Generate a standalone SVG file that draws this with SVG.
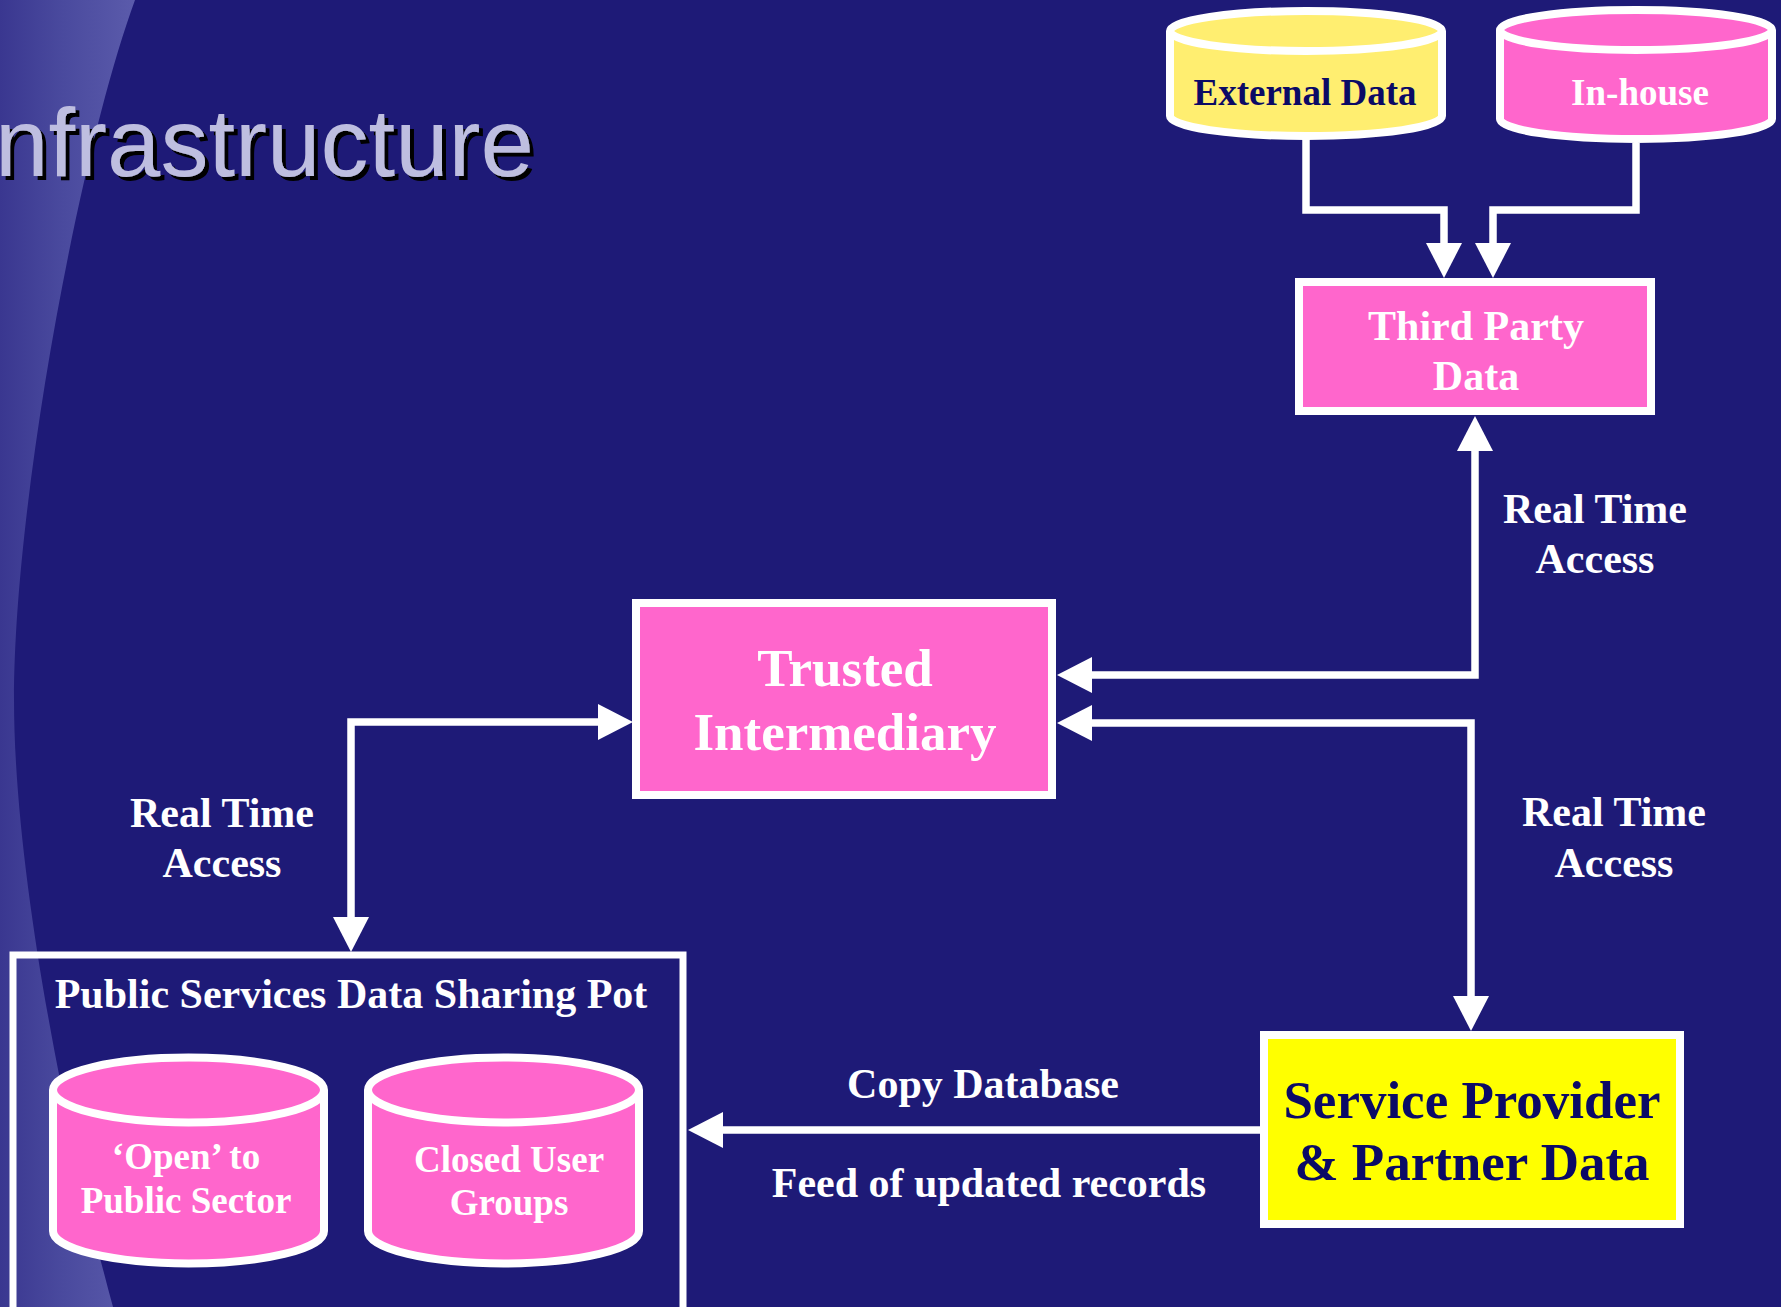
<svg xmlns="http://www.w3.org/2000/svg" width="1781" height="1307" viewBox="0 0 1781 1307">
<defs>
<style>
.t{font-family:"Liberation Serif","Times New Roman",serif;font-weight:bold;text-anchor:middle;}
.w{fill:#FFFFFF;}
.n{fill:#0B0A66;}
.box{stroke:#FFFFFF;stroke-width:8;}
.pink{fill:#FF66CC;}
.conn{fill:none;stroke:#FFFFFF;stroke-width:7.5;}
</style>
<linearGradient id="band" gradientUnits="userSpaceOnUse" x1="0" y1="0" x2="140" y2="0">
<stop offset="0" stop-color="#3A3790"/>
<stop offset="0.45" stop-color="#4A4A9E"/>
<stop offset="1" stop-color="#5C5CAC"/>
</linearGradient>
<filter id="shadow" x="-5%" y="-20%" width="115%" height="150%">
<feDropShadow dx="4" dy="4" stdDeviation="0" flood-color="#000000" flood-opacity="1"/>
</filter>
<marker id="ah" viewBox="0 0 35 36" refX="0" refY="18" markerWidth="35" markerHeight="36" markerUnits="userSpaceOnUse" orient="auto-start-reverse">
<path d="M0,0 L35,18 L0,36 Z" fill="#FFFFFF"/>
</marker>
</defs>
<rect x="0" y="0" width="1781" height="1307" fill="#1E1A77"/>
<path d="M0,0 L135,0 C80,150 14,500 14,700 C14,880 70,1150 113,1307 L0,1307 Z" fill="url(#band)"/>
<g id="title">
<text x="-5" y="176" font-family="Liberation Sans, Arial, sans-serif" font-size="96" fill="#BEBEE0" filter="url(#shadow)">nfrastructure</text>
</g>
<g id="connectors">
<path class="conn" d="M1306,139 V210 H1444 V243" marker-end="url(#ah)"/>
<path class="conn" d="M1636,143 V210 H1493 V243" marker-end="url(#ah)"/>
<path class="conn" d="M1475,451 V675 H1092" marker-start="url(#ah)" marker-end="url(#ah)"/>
<path class="conn" d="M1092,723 H1471 V996" marker-start="url(#ah)" marker-end="url(#ah)"/>
<path class="conn" d="M598,722 H351 V917" marker-start="url(#ah)" marker-end="url(#ah)"/>
<path class="conn" d="M1261,1130 H723" marker-end="url(#ah)"/>
</g>
<g id="external-data">
<path class="box" fill="#FFEE70" d="M1170,31 A136,20 0 0 1 1442,31 V116 A136,20 0 0 1 1170,116 Z"/>
<path d="M1170,31 A136,20 0 0 0 1442,31" fill="none" stroke="#FFFFFF" stroke-width="8"/>
<text class="t n" x="1305" y="105" font-size="37">External Data</text>
</g>
<g id="in-house">
<path class="box pink" d="M1500,30 A136,20 0 0 1 1772,30 V119 A136,20 0 0 1 1500,119 Z"/>
<path d="M1500,30 A136,20 0 0 0 1772,30" fill="none" stroke="#FFFFFF" stroke-width="8"/>
<text class="t w" x="1640" y="105" font-size="37">In-house</text>
</g>
<g id="third-party-data">
<rect class="box pink" x="1299" y="282" width="352" height="129"/>
<text class="t w" x="1476" y="340" font-size="42">Third Party</text>
<text class="t w" x="1476" y="390" font-size="42">Data</text>
</g>
<g id="trusted-intermediary">
<rect class="box pink" x="636" y="603" width="416" height="192"/>
<text class="t w" x="845" y="686" font-size="53">Trusted</text>
<text class="t w" x="845" y="750" font-size="53">Intermediary</text>
</g>
<g id="label-rta-top">
<text class="t w" x="1595" y="523" font-size="42">Real Time</text>
<text class="t w" x="1595" y="573" font-size="42">Access</text>
</g>
<g id="label-rta-right">
<text class="t w" x="1614" y="826" font-size="42">Real Time</text>
<text class="t w" x="1614" y="877" font-size="42">Access</text>
</g>
<g id="label-rta-left">
<text class="t w" x="222" y="827" font-size="42">Real Time</text>
<text class="t w" x="222" y="877" font-size="42">Access</text>
</g>
<g id="public-services-pot">
<rect x="13" y="955" width="670" height="380" fill="none" stroke="#FFFFFF" stroke-width="7"/>
<text class="t w" x="351" y="1008" font-size="42">Public Services Data Sharing Pot</text>
</g>
<g id="open-public-sector">
<path class="box pink" d="M53,1090 A135.5,32.5 0 0 1 324,1090 V1231 A135.5,32.5 0 0 1 53,1231 Z"/>
<path d="M53,1090 A135.5,32.5 0 0 0 324,1090" fill="none" stroke="#FFFFFF" stroke-width="8"/>
<text class="t w" x="186" y="1169" font-size="37">‘Open’ to</text>
<text class="t w" x="186" y="1213" font-size="37">Public Sector</text>
</g>
<g id="closed-user-groups">
<path class="box pink" d="M368,1090 A135.5,32.5 0 0 1 639,1090 V1231 A135.5,32.5 0 0 1 368,1231 Z"/>
<path d="M368,1090 A135.5,32.5 0 0 0 639,1090" fill="none" stroke="#FFFFFF" stroke-width="8"/>
<text class="t w" x="509" y="1172" font-size="37">Closed User</text>
<text class="t w" x="509" y="1215" font-size="37">Groups</text>
</g>
<g id="service-provider">
<rect class="box" fill="#FFFF00" x="1264" y="1035" width="416" height="189"/>
<text class="t n" x="1472" y="1118" font-size="53">Service Provider</text>
<text class="t n" x="1472" y="1180" font-size="53">&amp; Partner Data</text>
</g>
<g id="label-copy">
<text class="t w" x="983" y="1098" font-size="42">Copy Database</text>
<text class="t w" x="989" y="1197" font-size="42">Feed of updated records</text>
</g>
</svg>
